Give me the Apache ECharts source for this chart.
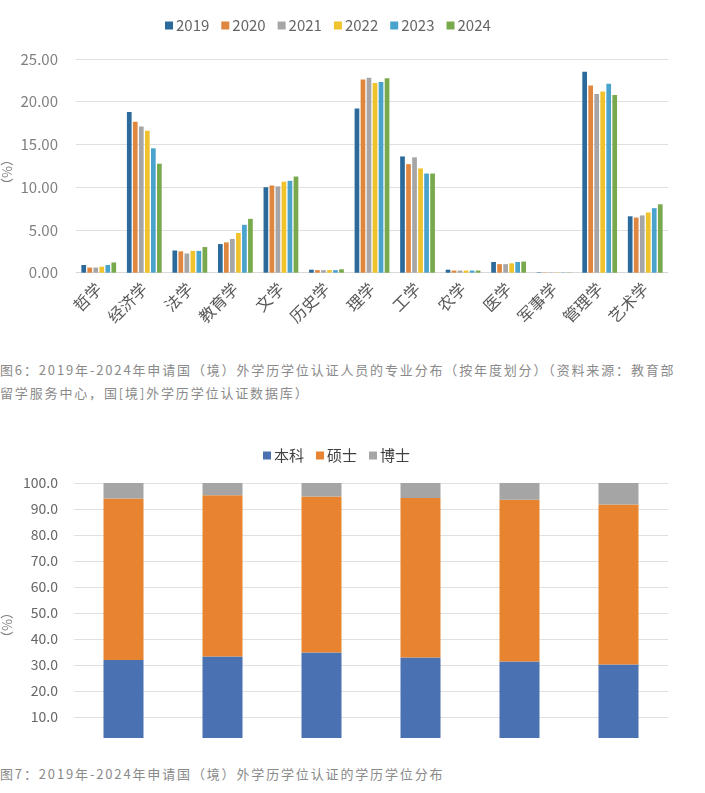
<!DOCTYPE html>
<html>
<head>
<meta charset="utf-8">
<script src="https://cdn.jsdelivr.net/npm/echarts@6/dist/echarts.min.js"></script>
<style>
  html, body { margin: 0; padding: 0; background: #ffffff; width: 705px; height: 793px; overflow: hidden; }
  #c1 { position: absolute; left: 0; top: 0; width: 705px; height: 350px; }
  #wrap2 { position: absolute; left: 0; top: 430px; width: 705px; height: 308px; overflow: hidden; }
  #c2 { position: absolute; left: 0; top: 0; width: 705px; height: 380px; }
  .cap { position: absolute; left: 0; font-family: "Noto Sans CJK SC", sans-serif; font-size: 13px; color: #8a8a8a; letter-spacing: 1.85px; white-space: nowrap; line-height: 23px; }
</style>
</head>
<body>
<div id="c1"></div>
<div class="cap" style="top:358px;">图6：2019年-2024年申请国（境）外学历学位认证人员的专业分布（按年度划分）（资料来源：教育部<br>留学服务中心，国[境]外学历学位认证数据库）</div>
<div id="wrap2"><div id="c2"></div></div>
<div class="cap" style="top:762px;">图7：2019年-2024年申请国（境）外学历学位认证的学历学位分布</div>
<script>
// ---- Chart 1 data ----
const majors = ['哲学','经济学','法学','教育学','文学','历史学','理学','工学','农学','医学','军事学','管理学','艺术学'];
const years = ['2019','2020','2021','2022','2023','2024'];
const v2019 = [0.9, 18.8, 2.6, 3.35, 10.0, 0.35, 19.2, 13.6, 0.35, 1.25, 0.05, 23.5, 6.6];
const v2020 = [0.6, 17.65, 2.5, 3.55, 10.2, 0.3, 22.6, 12.7, 0.25, 1.0, 0.03, 21.9, 6.45];
const v2021 = [0.6, 17.1, 2.25, 3.95, 10.1, 0.3, 22.8, 13.5, 0.25, 1.0, 0.03, 20.9, 6.7];
const v2022 = [0.7, 16.6, 2.55, 4.65, 10.65, 0.3, 22.2, 12.2, 0.25, 1.1, 0.03, 21.2, 7.05];
const v2023 = [0.9, 14.55, 2.55, 5.6, 10.75, 0.3, 22.3, 11.6, 0.25, 1.25, 0.03, 22.1, 7.55];
const v2024 = [1.2, 12.75, 3.0, 6.3, 11.25, 0.4, 22.75, 11.6, 0.25, 1.3, 0.03, 20.8, 8.0];
const yearValues = [v2019, v2020, v2021, v2022, v2023, v2024];
const yearColors = ['#2b6a9b', '#e0873f', '#a6a6a6', '#f0c22c', '#4aa3cc', '#78a94c'];

// ---- Chart 2 data ----
const degreeYears = ['2019','2020','2021','2022','2023','2024'];
const bachelor = [31.9, 33.3, 34.8, 32.9, 31.3, 30.2];
const master = [62.1, 62.0, 60.0, 61.3, 62.3, 61.5];
const doctor = [6.0, 4.7, 5.2, 5.8, 6.4, 8.3];
const degreeNames = ['本科', '硕士', '博士'];
const degreeColors = ['#4a71b1', '#e8832f', '#a5a5a5'];

const labelFont = '"Liberation Sans Narrow", "Noto Sans CJK SC", sans-serif';
const cjkFont = '"Noto Sans CJK SC", sans-serif';

const chart1 = echarts.init(document.getElementById('c1'), null, {renderer: 'canvas'});
chart1.setOption({
  animation: false,
  legend: {
    top: 13, left: 160,
    itemWidth: 8, itemHeight: 8, itemGap: 12,
    icon: 'rect',
    textStyle: { color: '#666666', fontSize: 15, fontFamily: labelFont, padding: [0, 0, 0, -2] },
    data: years
  },
  grid: { left: 76, right: 37, top: 59, bottom: 77.3 },
  xAxis: {
    type: 'category', data: majors,
    axisLine: { lineStyle: { color: '#d9d9d9', width: 1 } },
    axisTick: { show: false },
    axisLabel: { rotate: 45, color: '#595959', fontSize: 16, fontFamily: cjkFont, margin: 13, interval: 0 }
  },
  yAxis: {
    type: 'value', min: 0, max: 25, interval: 5,
    axisLine: { show: false }, axisTick: { show: false },
    splitLine: { lineStyle: { color: '#e0e0e0', width: 1 } },
    axisLabel: { color: '#808080', fontSize: 15, fontFamily: labelFont, margin: 18, formatter: v => v.toFixed(2) }
  },
  graphic: [{
    type: 'text', left: 0, top: 153, rotation: -Math.PI / 2,
    style: { text: '（%）', fill: '#808080', fontSize: 13, fontFamily: cjkFont }
  }],
  series: years.map((y, i) => ({
    name: y, type: 'bar', data: yearValues[i],
    barWidth: 4.7, barGap: '28%',
    itemStyle: { color: yearColors[i] }
  }))
});

const chart2 = echarts.init(document.getElementById('c2'), null, {renderer: 'canvas'});
const degreeValues = [bachelor, master, doctor];
chart2.setOption({
  animation: false,
  legend: {
    top: 13, left: 258,
    itemWidth: 8, itemHeight: 8, itemGap: 12,
    icon: 'rect',
    textStyle: { color: '#404040', fontSize: 15, fontFamily: cjkFont, padding: [0, 0, 0, -2] },
    data: degreeNames
  },
  grid: { left: 74, right: 37, top: 53, bottom: 67 },
  xAxis: {
    type: 'category', data: degreeYears,
    axisLine: { lineStyle: { color: '#d9d9d9' } },
    axisTick: { show: false },
    axisLabel: { color: '#595959', fontSize: 14 }
  },
  yAxis: {
    type: 'value', min: 0, max: 100, interval: 10,
    axisLine: { show: false }, axisTick: { show: false },
    splitLine: { lineStyle: { color: '#e0e0e0', width: 1 } },
    axisLabel: { color: '#666666', fontSize: 14, fontFamily: labelFont, margin: 16, formatter: v => v.toFixed(1) }
  },
  graphic: [{
    type: 'text', left: 0, top: 176, rotation: -Math.PI / 2,
    style: { text: '（%）', fill: '#808080', fontSize: 13, fontFamily: cjkFont }
  }],
  series: degreeNames.map((n, i) => ({
    name: n, type: 'bar', stack: 'total', data: degreeValues[i],
    barWidth: 40,
    itemStyle: { color: degreeColors[i] }
  }))
});
</script>
</body>
</html>
